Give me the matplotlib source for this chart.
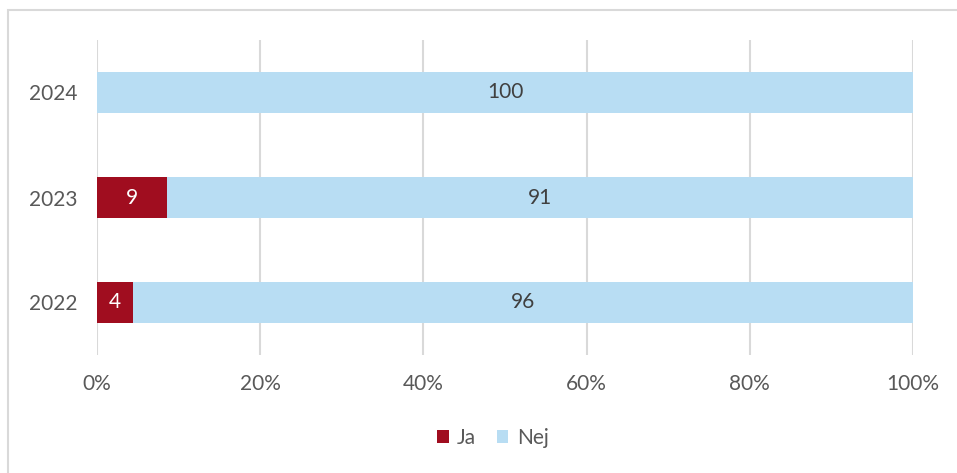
import matplotlib
matplotlib.use("Agg")
import matplotlib.pyplot as plt
from matplotlib.patches import Rectangle

years = ["2022", "2023", "2024"]
ja = [4.4, 8.6, 0]
nej = [95.6, 91.4, 100]
xticks = [0, 20, 40, 60, 80, 100]
xtick_labels = ["0%", "20%", "40%", "60%", "80%", "100%"]

RED = "#A00D1F"
BLUE = "#B8DDF3"
TXT = "#595959"
GRID = "#D9D9D9"

plt.rcParams['font.family'] = ['Lato', 'DejaVu Sans']
FS = 15

W, H = 957, 473
fig = plt.figure(figsize=(W/100, H/100), dpi=100)
ax = fig.add_axes([97/W, 1-355/H, (913-97)/W, (355-40)/H])

pos = list(range(len(years)))
b1 = ax.barh(pos, ja, height=0.39, color=RED, label="Ja", zorder=3)
b2 = ax.barh(pos, nej, left=ja, height=0.39, color=BLUE, label="Nej", zorder=3)

for i, v in enumerate(ja):
    if v > 0:
        ax.text(v/2, i, f"{v:.0f}", ha="center", va="center", color="white", fontsize=FS, zorder=4)
for i, v in enumerate(nej):
    if v > 0:
        ax.text(ja[i] + v/2, i, f"{v:.0f}", ha="center", va="center", color="#404040", fontsize=FS, zorder=4)

ax.set_xlim(0, 100)
ax.set_ylim(-0.5, len(years)-0.5)
ax.set_xticks(xticks)
ax.set_xticklabels(xtick_labels)
ax.set_yticks(pos)
ax.set_yticklabels(years)
ax.tick_params(axis="both", length=0, colors=TXT, labelsize=FS)
ax.tick_params(axis="x", pad=14)
ax.tick_params(axis="y", pad=14)
for s in ax.spines.values():
    s.set_visible(False)
ax.grid(axis="x", color=GRID, linewidth=1.5, zorder=0)
ax.set_axisbelow(True)

leg = fig.legend(handles=[b1, b2], labels=["Ja", "Nej"], loc="center",
                 bbox_to_anchor=(493/W, 1-438/H), ncol=2, frameon=False,
                 fontsize=FS, handlelength=0.55, handleheight=0.55,
                 handletextpad=0.4, columnspacing=1.0)
for t in leg.get_texts():
    t.set_color(TXT)

fig.patches.append(Rectangle((8/W, -0.1), 1.2, (1-10/H)+0.1, transform=fig.transFigure,
                             fill=False, edgecolor=GRID, linewidth=1.5))

fig.savefig("out.png", dpi=100)
